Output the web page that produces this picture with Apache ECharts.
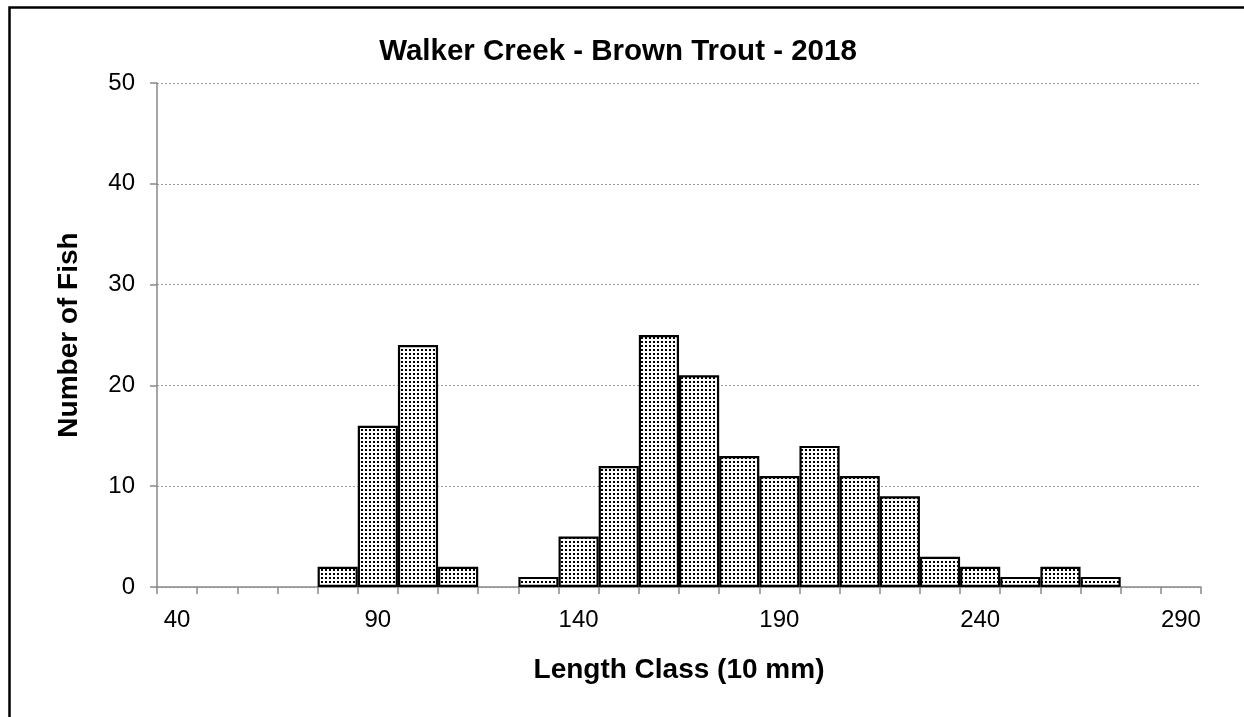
<!DOCTYPE html>
<html>
<head>
<meta charset="utf-8">
<script src="https://cdn.jsdelivr.net/npm/echarts@6/dist/echarts.min.js"></script>
<style>
html,body{margin:0;padding:0;background:#fff;}
#chart{width:1244px;height:717px;}
</style>
</head>
<body>
<div id="chart"></div>
<script>
var lengthClasses = [40,50,60,70,80,90,100,110,120,130,140,150,160,170,180,190,200,210,220,230,240,250,260,270,280,290];
var fishCounts    = [0,0,0,0,2,16,24,2,0,1,5,12,25,21,13,11,14,11,9,3,2,1,2,1,0,0];
var yTicks = [0,10,20,30,40,50];

var tile = document.createElement('canvas');
tile.width = 4; tile.height = 4;
var tctx = tile.getContext('2d');
tctx.fillStyle = '#fff';
tctx.fillRect(0,0,4,4);
tctx.fillStyle = '#000';
tctx.fillRect(1,1,2,2);

var chart = echarts.init(document.getElementById('chart'), null, {renderer:'canvas'});
var font = 'Liberation Sans, Arial, sans-serif';
chart.setOption({
  backgroundColor:'#fff',
  animation:false,
  title:{
    text:'Walker Creek - Brown Trout - 2018',
    left:613, top:32, textAlign:'center',
    textStyle:{fontFamily:font, fontSize:29.5, fontWeight:'bold', color:'#000'}
  },
  graphic:[{
    type:'rect', left:7, top:5, z:-1,
    shape:{width:1300, height:800},
    style:{fill:'none', stroke:'#000', lineWidth:2.5}
  }],
  grid:{left:157, right:43, top:83, bottom:130},
  xAxis:{
    type:'category',
    data:lengthClasses.map(String),
    boundaryGap:true,
    name:'Length Class (10 mm)',
    nameLocation:'middle',
    nameGap:69,
    nameTextStyle:{fontFamily:font, fontSize:28, fontWeight:'bold', color:'#000'},
    axisLine:{lineStyle:{color:'#898989', width:1.5}},
    axisTick:{show:true, interval:0, alignWithLabel:false, length:7, lineStyle:{color:'#898989', width:1.5}},
    axisLabel:{interval:4, margin:21, fontFamily:font, fontSize:24, color:'#000'},
    splitLine:{show:false}
  },
  yAxis:{
    type:'value',
    min:yTicks[0], max:yTicks[yTicks.length-1], interval:10,
    name:'Number of Fish',
    nameLocation:'middle',
    nameGap:74,
    nameTextStyle:{fontFamily:font, fontSize:28, fontWeight:'bold', color:'#000'},
    axisLine:{show:true, lineStyle:{color:'#898989', width:1.5}},
    axisTick:{show:true, length:7, lineStyle:{color:'#898989', width:1.5}},
    axisLabel:{margin:22, fontFamily:font, fontSize:24, color:'#000'},
    splitLine:{show:true, lineStyle:{color:'#999', type:[2,2], width:1}}
  },
  series:[{
    type:'bar',
    data:fishCounts.map(function(v){return v===0?null:v;}),
    barCategoryGap:'0%',
    itemStyle:{
      color:{image:tile, repeat:'repeat'},
      borderColor:'#000',
      borderWidth:2.2
    }
  }]
});
</script>
</body>
</html>
